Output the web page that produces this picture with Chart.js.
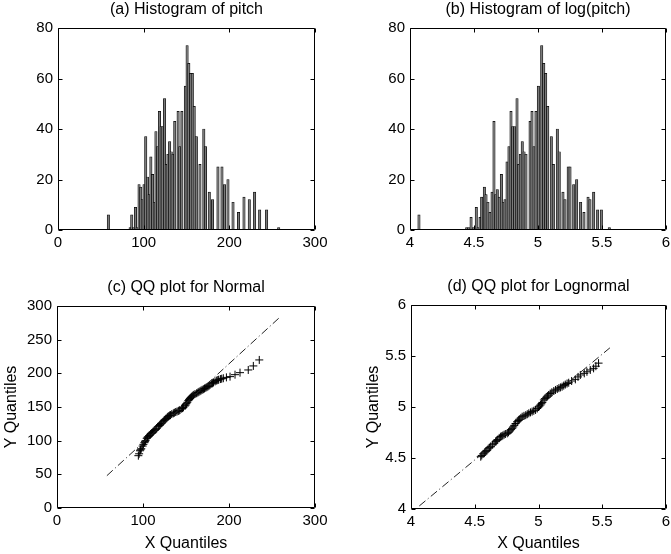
<!DOCTYPE html>
<html>
<head>
<meta charset="utf-8">
<script src="https://cdn.jsdelivr.net/npm/chart.js@4/dist/chart.umd.min.js"></script>
<style>
  html, body { margin: 0; padding: 0; background: #fff; }
  #page { position: relative; width: 671px; height: 554px; overflow: hidden; }
  canvas { position: absolute; }
</style>
</head>
<body>
<div id="page">
  <canvas id="canvasA" width="336" height="277" style="left:0;top:0"></canvas>
  <canvas id="canvasB" width="335" height="277" style="left:336px;top:0"></canvas>
  <canvas id="canvasC" width="336" height="277" style="left:0;top:277px"></canvas>
  <canvas id="canvasD" width="335" height="277" style="left:336px;top:277px"></canvas>
</div>
<script>
// (a) histogram of pitch: bar centres and counts
var pitchBins = [58.8, 84.2, 86.1, 88.2, 90.4, 92.3, 94.6, 96.6, 98.4, 100.4, 102.4, 104.4, 106.4, 108.4,
  110.4, 112.4, 114.3, 116.3, 118.4, 120.4, 122.4, 124.4, 126.4, 128.3, 130.3, 132.2, 134.2, 136.3,
  140.2, 142.2, 144.6, 148.7, 150.7, 152.7, 154.8, 156.8, 159.0, 161.5, 165.7, 170.2, 172.2, 176.6,
  180.4, 186.7, 191.4, 194.4, 198.4, 204.3, 210.8, 217.1, 223.3, 229.5, 235.4, 243.5, 257.6];
var pitchCounts = [6, 1, 6, 1, 9, 1, 18, 17, 12, 18, 37, 21, 14, 29,
  22, 11, 39, 33, 47, 41, 41, 52, 26, 30, 35, 31, 30, 43,
  47, 33, 47, 57, 73, 66, 62, 62, 49, 37, 26, 40, 33, 15,
  12, 25, 25, 18, 20, 11, 7, 13, 12, 15, 8, 8, 1];

// (b) histogram of log(pitch)
var logBins = [4.070, 4.443, 4.460, 4.477, 4.495, 4.518, 4.532, 4.547, 4.560, 4.581, 4.594, 4.609, 4.625,
  4.641, 4.656, 4.669, 4.682, 4.698, 4.714, 4.729, 4.742, 4.758, 4.773, 4.789, 4.802, 4.818, 4.836,
  4.849, 4.862, 4.877, 4.891, 4.906, 4.938, 4.953, 4.969, 4.984, 5.003, 5.029, 5.045, 5.060, 5.076,
  5.104, 5.120, 5.151, 5.166, 5.195, 5.211, 5.236, 5.250, 5.279, 5.302, 5.333, 5.359, 5.391, 5.406,
  5.435, 5.466, 5.495, 5.557];
var logCounts = [6, 1, 1, 5, 1, 9, 1, 5, 13, 17, 14, 11, 7,
  15, 43, 14, 16, 13, 22, 11, 12, 27, 33, 47, 41, 41, 52,
  26, 30, 35, 31, 30, 43, 47, 33, 47, 57, 73, 66, 62, 49,
  37, 26, 40, 31, 15, 12, 25, 25, 18, 20, 11, 7, 13, 12,
  15, 8, 8, 1];

// (c) QQ plot for normal
var normQx = [94.6, 95.5, 96.5, 97.2, 98.0, 99.6, 100.5, 101.6, 102.3, 103.0, 104.3, 105.2, 106.0, 107.0,
  108.1, 109.0, 110.0, 111.0, 112.0, 113.0, 114.0, 115.0, 116.0, 117.8, 119.0, 120.0, 121.0, 122.0,
  123.6, 124.8, 126.0, 127.0, 128.3, 129.0, 130.0, 131.0, 132.0, 133.5, 135.3, 136.5, 138.0, 139.5,
  141.0, 142.0, 143.0, 145.0, 146.0, 147.0, 148.8, 149.7, 150.5, 151.5, 152.7, 153.6, 154.5, 155.5,
  156.6, 157.8, 159.0, 160.5, 162.4, 163.8, 165.0, 166.3, 167.5, 168.8, 170.2, 171.5, 173.0, 174.3,
  175.5, 176.7, 177.9, 180.0, 181.0, 182.0, 183.8, 185.7, 187.0, 188.0, 190.0, 191.5, 193.4, 197.0,
  201.2, 207.0, 212.8, 222.4, 228.3, 235.2];
var normQy = [77.7, 80.5, 85.0, 86.5, 88.0, 92.0, 94.5, 97.0, 98.5, 100.0, 103.5, 105.0, 106.0, 107.5,
  108.5, 110.0, 111.0, 112.0, 113.4, 115.0, 116.0, 117.0, 118.5, 120.8, 122.5, 124.0, 125.5, 126.5,
  128.2, 130.0, 131.5, 133.0, 134.7, 135.5, 136.5, 137.5, 138.0, 139.5, 140.6, 141.5, 142.5, 143.2,
  144.0, 144.8, 145.6, 147.5, 148.5, 149.5, 151.6, 153.0, 155.0, 157.0, 159.5, 161.0, 162.5, 164.0,
  165.4, 166.8, 168.0, 169.3, 170.4, 171.5, 172.5, 173.5, 174.5, 175.5, 176.4, 177.5, 178.5, 179.5,
  180.5, 181.5, 182.8, 184.5, 185.5, 186.5, 188.0, 189.2, 190.0, 190.5, 191.5, 192.0, 192.7, 194.0,
  195.1, 198.0, 201.0, 205.0, 211.0, 219.9];
var normLineX = [58, 258];
var normLineY = [48, 282];

// (d) QQ plot for lognormal
var lognQx = [4.547, 4.555, 4.565, 4.575, 4.586, 4.595, 4.605, 4.615, 4.625, 4.640, 4.652, 4.664, 4.672,
  4.680, 4.692, 4.703, 4.712, 4.720, 4.730, 4.740, 4.755, 4.765, 4.775, 4.785, 4.794, 4.802, 4.810,
  4.820, 4.833, 4.842, 4.850, 4.862, 4.872, 4.886, 4.900, 4.912, 4.924, 4.937, 4.950, 4.963, 4.977,
  4.990, 5.000, 5.008, 5.016, 5.023, 5.030, 5.042, 5.050, 5.060, 5.070, 5.080, 5.092, 5.105, 5.120,
  5.133, 5.147, 5.160, 5.172, 5.185, 5.198, 5.210, 5.224, 5.237, 5.260, 5.289, 5.310, 5.328, 5.359,
  5.380, 5.406, 5.432, 5.450, 5.471];
var lognQy = [4.513, 4.525, 4.540, 4.550, 4.562, 4.572, 4.590, 4.602, 4.611, 4.630, 4.645, 4.660, 4.670,
  4.680, 4.697, 4.709, 4.714, 4.720, 4.728, 4.735, 4.742, 4.752, 4.765, 4.778, 4.791, 4.805, 4.820,
  4.838, 4.856, 4.868, 4.880, 4.893, 4.905, 4.913, 4.920, 4.929, 4.938, 4.947, 4.955, 4.963, 4.971,
  4.985, 5.000, 5.010, 5.020, 5.032, 5.045, 5.069, 5.082, 5.095, 5.107, 5.118, 5.132, 5.145, 5.157,
  5.167, 5.176, 5.185, 5.192, 5.199, 5.210, 5.220, 5.230, 5.238, 5.255, 5.271, 5.295, 5.314, 5.330,
  5.345, 5.363, 5.379, 5.400, 5.430];
var lognLineX = [4.065, 5.56];
var lognLineY = [4.03, 5.58];

// tick labels
var pitchTicks = [0, 100, 200, 300];
var logTicks = [4, 4.5, 5, 5.5, 6];
var countTicks = [0, 20, 40, 60, 80];
var normYTicks = [0, 50, 100, 150, 200, 250, 300];

Chart.defaults.font.family = "'Liberation Sans', Arial, sans-serif";
Chart.defaults.color = '#000';

function pairs(xs, ys) {
  return xs.map(function(x, i) { return {x: x, y: ys[i]}; });
}

// matlab style box with the ticks pointing inward
var boxPlugin = {
  id: 'mbox',
  afterDraw: function(chart) {
    var ctx = chart.ctx;
    var a = chart.chartArea;
    var sx = chart.scales.x, sy = chart.scales.y;
    var l = Math.round(a.left) + 0.5, r = Math.round(a.right) - 0.5;
    var t = Math.round(a.top) + 0.5, b = Math.round(a.bottom) - 0.5;
    ctx.save();
    ctx.strokeStyle = '#000';
    ctx.lineWidth = 1;
    ctx.beginPath();
    ctx.rect(l, t, r - l, b - t);
    sx.ticks.forEach(function(tk) {
      var px = Math.round(sx.getPixelForValue(tk.value)) + 0.5;
      ctx.moveTo(px, b); ctx.lineTo(px, b - 4);
      ctx.moveTo(px, t); ctx.lineTo(px, t + 4);
    });
    sy.ticks.forEach(function(tk) {
      var py = Math.round(sy.getPixelForValue(tk.value)) + 0.5;
      ctx.moveTo(l, py); ctx.lineTo(l + 4, py);
      ctx.moveTo(r, py); ctx.lineTo(r - 4, py);
    });
    ctx.stroke();
    ctx.restore();
  }
};

function fixSize(size) {
  return function(scale) {
    if (scale.isHorizontal()) scale.height = size; else scale.width = size;
    scale.paddingLeft = 0; scale.paddingRight = 0;
    scale.paddingTop = 0; scale.paddingBottom = 0;
  };
}

function axis(min, max, tickList, size, pad, title) {
  var ax = {
    type: 'linear', min: min, max: max, offset: false,
    grid: {display: false, drawTicks: false},
    border: {display: false},
    ticks: {
      padding: pad, font: {size: 15},
      callback: function(v) { return String(v); }
    },
    afterBuildTicks: function(scale) {
      scale.ticks = tickList.map(function(v) { return {value: v}; });
    },
    afterFit: fixSize(size)
  };
  if (title) {
    ax.title = {display: true, text: title, font: {size: 16}, padding: {top: 2, bottom: 1}};
  }
  return ax;
}

function baseOptions(title, pad) {
  return {
    responsive: false,
    animation: false,
    layout: {padding: pad},
    plugins: {
      legend: {display: false},
      tooltip: {enabled: false},
      title: {display: true, text: title, fullSize: false, font: {size: 16, weight: 'normal'},
        padding: {top: 0, bottom: 8.8}}
    }
  };
}

function histogram(id, title, bins, counts, xmin, xmax, xticks, pad) {
  var opts = baseOptions(title, pad);
  opts.scales = {
    x: axis(xmin, xmax, xticks, 25, 4),
    y: axis(0, 80, countTicks, 50, 5)
  };
  return new Chart(document.getElementById(id), {
    type: 'bar',
    data: {
      datasets: [{
        data: pairs(bins, counts),
        backgroundColor: '#7a7a7a',
        borderColor: '#000',
        borderWidth: 0.7,
        barThickness: 2.4
      }]
    },
    options: opts,
    plugins: [boxPlugin]
  });
}

function qqplot(id, title, qx, qy, lx, ly, min, max, xticks, yticks, ywidth, xheight, pad) {
  var opts = baseOptions(title, pad);
  opts.scales = {
    x: axis(min, max, xticks, xheight, 4, 'X Quantiles'),
    y: axis(min, max, yticks, ywidth, 5, 'Y Quantiles')
  };
  return new Chart(document.getElementById(id), {
    type: 'scatter',
    data: {
      datasets: [{
        data: pairs(lx, ly),
        showLine: true,
        pointRadius: 0,
        borderColor: '#222',
        borderWidth: 1,
        borderDash: [8, 3, 1, 3]
      }, {
        data: pairs(qx, qy),
        pointStyle: 'cross',
        pointRadius: 4,
        borderColor: '#000',
        borderWidth: 1,
        backgroundColor: '#000'
      }]
    },
    options: opts,
    plugins: [boxPlugin]
  });
}

histogram('canvasA', '(a) Histogram of pitch', pitchBins, pitchCounts, 0, 300, pitchTicks,
  {left: 8, right: 21, top: 0, bottom: 22});
histogram('canvasB', '(b) Histogram of log(pitch)', logBins, logCounts, 4, 6, logTicks,
  {left: 24, right: 5, top: 0, bottom: 22});
qqplot('canvasC', '(c) QQ plot for Normal', normQx, normQy, normLineX, normLineY, 0, 300,
  pitchTicks, normYTicks, 57, 46, {left: 0, right: 21, top: 1, bottom: 0});
qqplot('canvasD', '(d) QQ plot for Lognormal', lognQx, lognQy, lognLineX, lognLineY, 4, 6,
  logTicks, logTicks, 49, 45, {left: 26, right: 5, top: 0, bottom: 0});
</script>
</body>
</html>
